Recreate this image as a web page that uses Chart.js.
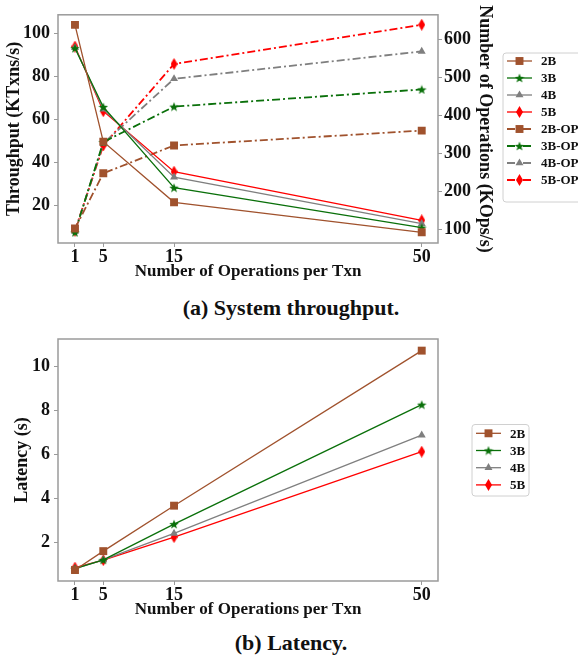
<!DOCTYPE html>
<html>
<head>
<meta charset="utf-8">
<script src="https://cdn.jsdelivr.net/npm/chart.js@4.4.1/dist/chart.umd.min.js"></script>
<style>
  body { margin: 0; background: #fff; width: 578px; height: 662px; position: relative; overflow: hidden; }
  canvas { position: absolute; left: 0; }
  #thr { top: 0; }
  #lat { top: 320px; }
  .caption { position: absolute; left: 0; width: 582px; text-align: center; line-height: 25px;
             font: bold 22px "Liberation Serif", serif; color: #111; }
</style>
</head>
<body>
<canvas id="thr" width="578" height="286"></canvas>
<div class="caption" style="top:295px">(a) System throughput.</div>
<canvas id="lat" width="578" height="304"></canvas>
<div class="caption" style="top:630px">(b) Latency.</div>

<script>
// Data
const opsPerTxn = [1, 5, 15, 50];
const xTicks = [1, 5, 15, 50];

// throughput (KTxns/s), left axis
const thr2B = [104.1, 49.6, 21.3, 7.3];
const thr3B = [93.2, 65.8, 28.1, 9.5];
const thr4B = [93.5, 64.8, 33.0, 11.3];
const thr5B = [94.0, 63.8, 35.6, 12.9];

// operations (KOps/s), right axis
const ops2B = [103, 248, 321, 360];
const ops3B = [93, 330, 423, 468];
const ops4B = [95, 326, 496, 568];
const ops5B = [97, 321, 535, 638];

// latency (s)
const lat2B = [0.74, 1.6, 3.67, 10.73];
const lat3B = [0.8, 1.2, 2.83, 8.27];
const lat4B = [0.8, 1.2, 2.41, 6.88];
const lat5B = [0.85, 1.19, 2.24, 6.13];

const colors = ['#a0522d', '#0a700a', '#7f7f7f', '#ff0000'];
const serif = 'Liberation Serif';
const tickFont = { family: serif, weight: 'bold', size: 18 };
const xTitleFont = { family: serif, weight: 'bold', size: 17 };

// Marker images
function makeStar(color, size) {
  const c = document.createElement('canvas');
  c.width = size; c.height = size;
  const g = c.getContext('2d');
  const cx = size / 2, cy = size / 2 + 0.5, ro = size / 2, ri = ro * 0.42;
  g.beginPath();
  for (let i = 0; i < 10; i++) {
    const r = i % 2 ? ri : ro;
    const a = -Math.PI / 2 + i * Math.PI / 5;
    g.lineTo(cx + r * Math.cos(a), cy + r * Math.sin(a));
  }
  g.closePath();
  g.fillStyle = color;
  g.fill();
  return c;
}

function makeThinDiamond(color, w, h) {
  const c = document.createElement('canvas');
  c.width = w; c.height = h;
  const g = c.getContext('2d');
  g.beginPath();
  g.moveTo(w / 2, 0);
  g.lineTo(w, h / 2);
  g.lineTo(w / 2, h);
  g.lineTo(0, h / 2);
  g.closePath();
  g.fillStyle = color;
  g.fill();
  return c;
}

const markers = [
  { style: 'rect', radius: 5.6 },
  { style: makeStar(colors[1], 10), radius: 5 },
  { style: 'triangle', radius: 4.6 },
  { style: makeThinDiamond(colors[3], 7, 12), radius: 6 },
];

function toPoints(vals) {
  return vals.map((v, i) => ({ x: opsPerTxn[i], y: v }));
}

function lineDataset(label, vals, idx, axis, dashed) {
  return {
    label: label,
    data: toPoints(vals),
    yAxisID: axis,
    borderColor: colors[idx],
    backgroundColor: colors[idx],
    borderWidth: dashed ? 1.8 : 1.3,
    borderDash: dashed ? [8, 3, 2, 3] : [],
    pointStyle: markers[idx].style,
    pointRadius: markers[idx].radius,
    pointBackgroundColor: colors[idx],
    pointBorderColor: colors[idx],
    pointBorderWidth: 0,
    tension: 0,
  };
}

// Frame around the plot area
const frame = {
  id: 'frame',
  afterDraw(chart) {
    const { ctx, chartArea: a } = chart;
    ctx.save();
    ctx.strokeStyle = '#9a9a9a';
    ctx.lineWidth = 1.5;
    ctx.strokeRect(a.left, a.top, a.right - a.left, a.bottom - a.top);
    ctx.restore();
  }
};

// Boxed legend at a fixed spot
function boxLegend(box) {
  return {
    id: 'boxLegend',
    afterDraw(chart) {
      const ctx = chart.ctx;
      ctx.save();
      ctx.fillStyle = '#fff';
      ctx.strokeStyle = '#d0d0d0';
      ctx.lineWidth = 1;
      ctx.beginPath();
      ctx.roundRect(box.x, box.y, box.w, box.h, 3);
      ctx.fill();
      ctx.stroke();
      chart.data.datasets.forEach((ds, i) => {
        const y = box.firstY + i * box.rowH;
        ctx.strokeStyle = ds.borderColor;
        ctx.lineWidth = ds.borderWidth;
        ctx.setLineDash(ds.borderDash);
        ctx.beginPath();
        ctx.moveTo(box.lineX, y);
        ctx.lineTo(box.lineX + 25, y);
        ctx.stroke();
        ctx.setLineDash([]);
        ctx.fillStyle = ds.pointBackgroundColor;
        ctx.strokeStyle = ds.pointBorderColor;
        Chart.helpers.drawPoint(ctx, {
          pointStyle: ds.pointStyle, radius: ds.pointRadius, rotation: 0, borderWidth: 0
        }, box.lineX + 12.5, y);
        ctx.fillStyle = '#111';
        ctx.font = 'bold 13px "' + serif + '"';
        ctx.textBaseline = 'middle';
        ctx.fillText(ds.label, box.textX, y + 1);
      });
      ctx.restore();
    }
  };
}

const xScale = {
  type: 'linear',
  min: -1.4,
  max: 52.3,
  afterBuildTicks: (s) => { s.ticks = xTicks.map(v => ({ value: v })); },
  afterFit: (s) => { s.height = 43; },
  grid: { drawOnChartArea: false, drawTicks: true, tickLength: 4, color: '#9a9a9a' },
  border: { display: false },
  ticks: { font: tickFont, color: '#111', padding: 0, maxRotation: 0 },
  title: { display: true, text: 'Number of Operations per Txn', font: xTitleFont, color: '#111', padding: { top: 0, bottom: 4 } },
};

Chart.defaults.animation = false;
Chart.defaults.font.family = serif;

// (a) throughput
new Chart(document.getElementById('thr'), {
  type: 'line',
  data: {
    datasets: [
      lineDataset('2B', thr2B, 0, 'y', false),
      lineDataset('3B', thr3B, 1, 'y', false),
      lineDataset('4B', thr4B, 2, 'y', false),
      lineDataset('5B', thr5B, 3, 'y', false),
      lineDataset('2B-OP', ops2B, 0, 'y2', true),
      lineDataset('3B-OP', ops3B, 1, 'y2', true),
      lineDataset('4B-OP', ops4B, 2, 'y2', true),
      lineDataset('5B-OP', ops5B, 3, 'y2', true),
    ]
  },
  options: {
    responsive: false,
    layout: { padding: { top: 2, right: 79, left: 0, bottom: 0 } },
    plugins: { legend: { display: false }, tooltip: { enabled: false } },
    scales: {
      x: xScale,
      y: {
        position: 'left',
        min: 2.3, max: 108.8,
        afterBuildTicks: (s) => { s.ticks = [20, 40, 60, 80, 100].map(v => ({ value: v })); },
        afterFit: (s) => { s.width = 58; },
        grid: { drawOnChartArea: false, drawTicks: true, tickLength: 4, color: '#9a9a9a' },
        border: { display: false },
        ticks: { font: tickFont, color: '#111', padding: 4 },
        title: { display: true, text: 'Throughput (KTxns/s)', font: tickFont, color: '#111', padding: { top: 4, bottom: 0 } },
      },
      y2: {
        position: 'right',
        min: 65, max: 664,
        afterBuildTicks: (s) => { s.ticks = [100, 200, 300, 400, 500, 600].map(v => ({ value: v })); },
        afterFit: (s) => { s.width = 61; },
        grid: { drawOnChartArea: false, drawTicks: true, tickLength: 4, color: '#9a9a9a' },
        border: { display: false },
        ticks: { font: tickFont, color: '#111', padding: 2 },
        title: { display: true, text: 'Number of Operations (KOps/s)', font: tickFont, color: '#111', padding: { top: 4, bottom: 0 } },
      }
    }
  },
  plugins: [frame, boxLegend({ x: 503, y: 53, w: 80, h: 149, firstY: 61, rowH: 17, lineX: 507, textX: 541 })]
});

// (b) latency
new Chart(document.getElementById('lat'), {
  type: 'line',
  data: {
    datasets: [
      lineDataset('2B', lat2B, 0, 'y', false),
      lineDataset('3B', lat3B, 1, 'y', false),
      lineDataset('4B', lat4B, 2, 'y', false),
      lineDataset('5B', lat5B, 3, 'y', false),
    ]
  },
  options: {
    responsive: false,
    layout: { padding: { top: 19, right: 140, left: 8, bottom: 0 } },
    plugins: { legend: { display: false }, tooltip: { enabled: false } },
    scales: {
      x: xScale,
      y: {
        position: 'left',
        min: 0.24, max: 11.26,
        afterBuildTicks: (s) => { s.ticks = [2, 4, 6, 8, 10].map(v => ({ value: v })); },
        afterFit: (s) => { s.width = 50; },
        grid: { drawOnChartArea: false, drawTicks: true, tickLength: 4, color: '#9a9a9a' },
        border: { display: false },
        ticks: { font: tickFont, color: '#111', padding: 4 },
        title: { display: true, text: 'Latency (s)', font: tickFont, color: '#111', padding: { top: 4, bottom: 0 } },
      }
    }
  },
  plugins: [frame, boxLegend({ x: 472, y: 104.5, w: 57, h: 71.5, firstY: 113.3, rowH: 17.2, lineX: 476, textX: 510 })]
});
</script>
</body>
</html>
